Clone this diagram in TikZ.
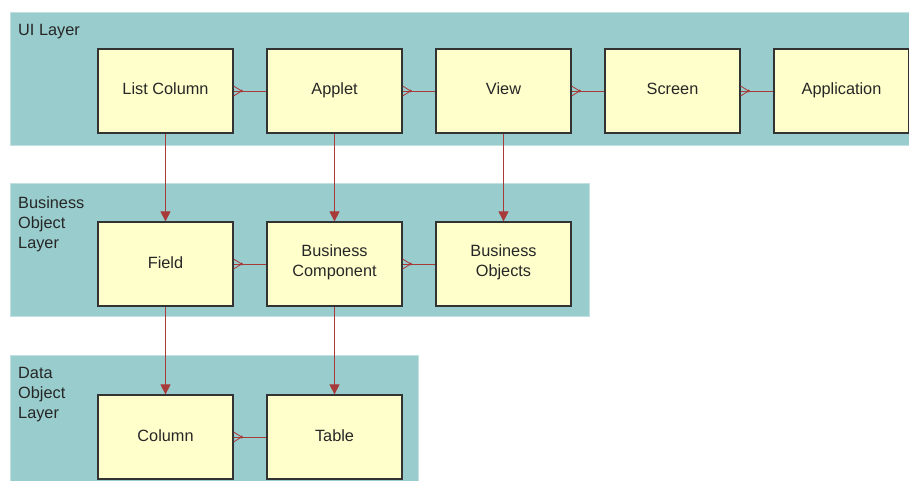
\documentclass[tikz,border=0pt]{standalone}
\usepackage{fontspec}
\setmainfont{Liberation Sans}
\usetikzlibrary{arrows.meta,positioning,decorations.markings}
\definecolor{layerfill}{HTML}{99CCCC}
\definecolor{boxfill}{HTML}{FFFFCC}
\definecolor{linkred}{HTML}{A83A3A}
\tikzstyle{entity} = [
  rectangle, draw = black!80, line width = 1.2pt, fill = boxfill,
  text = black!85, align = center, minimum width = 135pt,
  minimum height = 84pt, font = \fontsize{16.3}{20}\selectfont,
  execute at begin node = \strut, execute at end node = \strut
]
\tikzstyle{layer} = [fill = layerfill, draw = layerfill!60!white]
\tikzstyle{layerlabel} = [
  anchor = north west, align = left, inner sep = 0pt,
  text = black!85, font = \fontsize{16.3}{20}\selectfont
]
\tikzstyle{many} = [
  draw = linkred, line width = 0.8pt, postaction = {decorate},
  decoration = {markings, mark = at position 8pt with {
    \fill[linkred] (0,0) circle (1.6pt);
    \draw[linkred, line width = 0.8pt] (-8pt,5pt) -- (0,0) -- (-8pt,-5pt);
  }}
]
\tikzstyle{parent} = [
  draw = linkred, line width = 0.8pt,
  -{Triangle[length = 10pt, width = 10pt]}
]

\begin{document}
\begin{tikzpicture}[x = 1pt, y = -1pt]
    \useasboundingbox (0,0) rectangle (909,481);

    % layers
    \fill[white] (0,0) rectangle (909,481);
    \path[layer] (10,12) rectangle (909,145);
    \path[layer] (10,183) rectangle (589,316);
    \path[layer] (10,355) rectangle (418,481);
    \node[layerlabel] (uilabel) at (18,24) {UI Layer};
    \node[layerlabel] (bolabel) at (18,196) {Business\\Object\\Layer};
    \node[layerlabel] (dolabel) at (18,367) {Data\\Object\\Layer};

    % UI layer
    \node[entity] (lcol) at (165.5,91) {List Column};
    \node[entity, right=32.8pt of lcol] (applet) {Applet};
    \node[entity, right=32.8pt of applet] (view) {View};
    \node[entity, right=32.8pt of view] (screen) {Screen};
    \node[entity, right=32.8pt of screen] (app) {Application};

    % business object layer
    \node[entity, below=87.8pt of lcol] (field) {Field};
    \node[entity, right=32.8pt of field] (buscomp) {Business\\Component};
    \node[entity, right=32.8pt of buscomp] (busobj) {Business\\Objects};

    % data object layer
    \node[entity, below=87.8pt of field] (column) {Column};
    \node[entity, right=32.8pt of column] (table) {Table};

    \draw[many] (lcol.east) -- (applet.west);
    \draw[many] (applet.east) -- (view.west);
    \draw[many] (view.east) -- (screen.west);
    \draw[many] (screen.east) -- (app.west);
    \draw[many] (field.east) -- (buscomp.west);
    \draw[many] (buscomp.east) -- (busobj.west);
    \draw[many] (column.east) -- (table.west);

    \draw[parent] (lcol.south) -- (field.north);
    \draw[parent] (applet.south) -- (buscomp.north);
    \draw[parent] (view.south) -- (busobj.north);
    \draw[parent] (field.south) -- (column.north);
    \draw[parent] (buscomp.south) -- (table.north);
  \end{tikzpicture}
\end{document}
